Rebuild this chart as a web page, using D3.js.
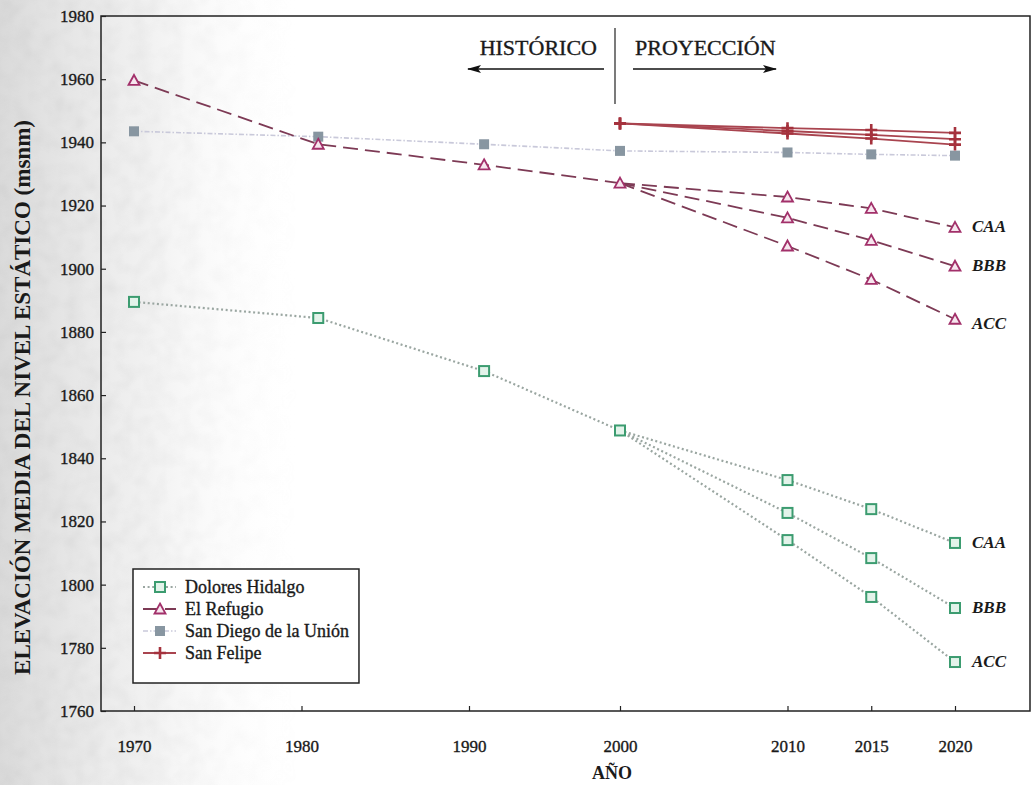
<!DOCTYPE html>
<html>
<head>
<meta charset="utf-8">
<script src="https://cdn.jsdelivr.net/npm/d3@7"></script>
<style>
  body { margin: 0; background: #fff; }
</style>
</head>
<body>
<svg id="chart" width="1034" height="785"></svg>
<script>
// ---- data -------------------------------------------------------------
const histYears = [1970, 1981, 1991, 2000];
const projYears = [2000, 2010, 2015, 2020];
const allYears  = [1970, 1981, 1991, 2000, 2010, 2015, 2020];
const xTickValues = [1970, 1980, 1990, 2000, 2010, 2015, 2020];
const yTickValues = [1760, 1780, 1800, 1820, 1840, 1860, 1880, 1900, 1920, 1940, 1960, 1980];
const scenarios = ["CAA", "BBB", "ACC"];

// Dolores Hidalgo (msnm)
const doloresHist = [1889.5, 1884.4, 1867.6, 1848.8];
const doloresCAA  = [1848.8, 1833.1, 1823.9, 1813.2];
const doloresBBB  = [1848.8, 1822.7, 1808.4, 1792.6];
const doloresACC  = [1848.8, 1814.1, 1796.1, 1775.5];

// El Refugio (msnm)
const refugioHist = [1959.6, 1939.4, 1932.9, 1927.1];
const refugioCAA  = [1927.1, 1922.7, 1919.1, 1913.1];
const refugioBBB  = [1927.1, 1916.1, 1909.0, 1900.8];
const refugioACC  = [1927.1, 1907.2, 1896.6, 1884.0];

// San Diego de la Unión (msnm)
const sanDiego = [1943.5, 1941.8, 1939.4, 1937.3, 1936.8, 1936.2, 1935.8];

// San Felipe (msnm), three projected branches from 2000
const sanFelipeCAA = [1946.0, 1944.5, 1943.9, 1943.0];
const sanFelipeBBB = [1946.0, 1943.6, 1942.4, 1941.0];
const sanFelipeACC = [1946.0, 1942.8, 1941.2, 1939.3];

const seriesNames = ["Dolores Hidalgo", "El Refugio", "San Diego de la Unión", "San Felipe"];

// ---- layout -----------------------------------------------------------
const svg = d3.select("#chart");
const W = 1034, H = 785;
const pLeft = 101, pRight = 1030, pTop = 16, pBottom = 711;
const serif = "Liberation Serif";
const ink = "#1a1a1a";

// piecewise scale: the printed axis is not uniform between 1990 and 2000
const x = d3.scaleLinear().domain([1970, 1990, 2000, 2020]).range([134, 469, 620, 955]);
const y = d3.scaleLinear().domain([1760, 1980]).range([pBottom, pTop]);

// soft grey scan haze on the left side
const defs = svg.append("defs");
const grad = defs.append("linearGradient").attr("id", "haze").attr("x1", 0).attr("x2", 1).attr("y1", 0).attr("y2", 0);
grad.append("stop").attr("offset", 0).attr("stop-color", "#d6d6d6").attr("stop-opacity", 0.9);
grad.append("stop").attr("offset", 0.5).attr("stop-color", "#e6e6e6").attr("stop-opacity", 0.55);
grad.append("stop").attr("offset", 1).attr("stop-color", "#ffffff").attr("stop-opacity", 0);
const noise = defs.append("filter").attr("id", "grain").attr("x", 0).attr("y", 0).attr("width", 1).attr("height", 1);
noise.append("feTurbulence").attr("type", "fractalNoise").attr("baseFrequency", 0.06).attr("numOctaves", 2).attr("seed", 4);
noise.append("feColorMatrix").attr("type", "matrix")
  .attr("values", "0 0 0 0 0.55  0 0 0 0 0.55  0 0 0 0 0.55  0 0 0 -1.2 0.75");
noise.append("feComposite").attr("in2", "SourceGraphic").attr("operator", "in");

svg.append("rect").attr("x", 0).attr("y", 0).attr("width", 300).attr("height", H).attr("fill", "url(#haze)");
svg.append("rect").attr("x", 0).attr("y", 0).attr("width", 300).attr("height", H)
  .attr("fill", "url(#haze)").attr("filter", "url(#grain)").attr("opacity", 0.5);

// arrow head
defs.append("marker").attr("id", "arrow").attr("viewBox", "0 0 14 8").attr("refX", 13).attr("refY", 4)
  .attr("markerWidth", 14).attr("markerHeight", 8).attr("markerUnits", "userSpaceOnUse").attr("orient", "auto")
  .append("path").attr("d", "M0,0 L14,4 L0,8 L3,4 Z").attr("fill", "#111");

// text helper: every label uses the serif face, slightly heavier than regular
function label(sel, x0, y0, str, size, opts = {}) {
  const t = sel.append("text").attr("x", x0).attr("y", y0)
    .attr("font-family", serif).attr("font-size", size)
    .attr("font-weight", opts.weight || "normal").attr("font-style", opts.style || "normal")
    .attr("text-anchor", opts.anchor || "start").attr("fill", ink).text(str);
  if (!opts.weight) t.attr("stroke", ink).attr("stroke-width", 0.35);
  return t;
}

// ---- axes ---------------------------------------------------------------
const yAxis = d3.axisLeft(y).tickValues(yTickValues).tickSizeInner(-5).tickSizeOuter(0).tickPadding(7).tickFormat(d3.format("d"));
const gy = svg.append("g").attr("transform", `translate(${pLeft},0)`).call(yAxis);
gy.select(".domain").remove();
gy.selectAll("line").attr("stroke", "#222").attr("stroke-width", 1.2);
gy.selectAll("text").attr("font-family", serif).attr("font-size", 17).attr("fill", ink)
  .attr("stroke", ink).attr("stroke-width", 0.35);

const xAxis = d3.axisBottom(x).tickValues(xTickValues).tickSizeInner(-5).tickSizeOuter(0).tickPadding(29).tickFormat(d3.format("d"));
const gx = svg.append("g").attr("transform", `translate(0,${pBottom})`).call(xAxis);
gx.select(".domain").remove();
gx.selectAll("line").attr("stroke", "#222").attr("stroke-width", 1.2);
gx.selectAll("text").attr("font-family", serif).attr("font-size", 17).attr("fill", ink)
  .attr("stroke", ink).attr("stroke-width", 0.35);

// frame
svg.append("path")
  .attr("d", `M${pLeft},${pTop} L${pRight},${pTop} L${pRight},${pBottom} L${pLeft},${pBottom} Z`)
  .attr("fill", "none").attr("stroke", "#222").attr("stroke-width", 1.5);

// axis titles
label(svg, x(2000) - 8, 779, "AÑO", 18, { weight: "bold", anchor: "middle" });
label(svg, 0, 0, "ELEVACIÓN MEDIA DEL NIVEL ESTÁTICO (msnm)", 23, { weight: "bold", anchor: "middle" })
  .attr("transform", `translate(30,${(pTop + pBottom) / 2 + 34}) rotate(-90)`);

// ---- historic / projection annotation ------------------------------------
svg.append("line").attr("x1", 615).attr("x2", 615).attr("y1", 28).attr("y2", 104).attr("stroke", "#222").attr("stroke-width", 1.2);
label(svg, 597, 55, "HISTÓRICO", 22, { anchor: "end" });
label(svg, 635, 55, "PROYECCIÓN", 22);
svg.append("line").attr("x1", 604).attr("x2", 468).attr("y1", 69).attr("y2", 69).attr("stroke", "#111").attr("stroke-width", 1.5).attr("marker-end", "url(#arrow)");
svg.append("line").attr("x1", 633).attr("x2", 776).attr("y1", 69).attr("y2", 69).attr("stroke", "#111").attr("stroke-width", 1.5).attr("marker-end", "url(#arrow)");

// ---- series styles --------------------------------------------------------
const styles = {
  dolores:  { line: "#9aa6a1", width: 2.2, dash: "2 2.6" },
  refugio:  { line: "#7d3a55", width: 1.8, dash: "15 7" },
  sanDiego: { line: "#c9c9da", width: 1.6, dash: "5 2 1.5 2" },
  sanFelipe:{ line: "#a9444f", width: 1.8, dash: null }
};

const line = d3.line().x(d => x(d[0])).y(d => y(d[1]));
const zipped = (years, vals) => years.map((yr, i) => [yr, vals[i]]);

function drawLine(pts, st) {
  const p = svg.append("path").attr("d", line(pts)).attr("fill", "none")
    .attr("stroke", st.line).attr("stroke-width", st.width);
  if (st.dash) p.attr("stroke-dasharray", st.dash);
}

function squareOpen(g, cx, cy) {
  g.append("rect").attr("x", cx - 5).attr("y", cy - 5).attr("width", 10).attr("height", 10)
    .attr("fill", "#e3f3ea").attr("stroke", "#3c9c70").attr("stroke-width", 2);
}
function triangle(g, cx, cy) {
  g.append("path").attr("d", `M${cx},${cy - 5.5} L${cx + 5.5},${cy + 4.5} L${cx - 5.5},${cy + 4.5} Z`)
    .attr("fill", "#f6e6ee").attr("stroke", "#a2306a").attr("stroke-width", 1.8);
}
function squareFilled(g, cx, cy) {
  g.append("rect").attr("x", cx - 5).attr("y", cy - 5).attr("width", 10).attr("height", 10)
    .attr("fill", "#8896a1");
}
function plus(g, cx, cy) {
  g.append("path").attr("d", `M${cx - 6},${cy} L${cx + 6},${cy} M${cx},${cy - 6} L${cx},${cy + 6}`)
    .attr("stroke", "#a5323d").attr("stroke-width", 2.6);
}

// San Diego de la Unión
const sdPts = zipped(allYears, sanDiego);
drawLine(sdPts, styles.sanDiego);

// El Refugio
const refProj = [refugioCAA, refugioBBB, refugioACC];
drawLine(zipped(histYears, refugioHist), styles.refugio);
refProj.forEach(v => drawLine(zipped(projYears, v), styles.refugio));

// Dolores Hidalgo
const dolProj = [doloresCAA, doloresBBB, doloresACC];
drawLine(zipped(histYears, doloresHist), styles.dolores);
dolProj.forEach(v => drawLine(zipped(projYears, v), styles.dolores));

// San Felipe
const sfProj = [sanFelipeCAA, sanFelipeBBB, sanFelipeACC];
sfProj.forEach(v => drawLine(zipped(projYears, v), styles.sanFelipe));

// markers
const gm = svg.append("g");
sdPts.forEach(d => squareFilled(gm, x(d[0]), y(d[1])));
zipped(histYears, refugioHist).forEach(d => triangle(gm, x(d[0]), y(d[1])));
refProj.forEach(v => zipped(projYears, v).slice(1).forEach(d => triangle(gm, x(d[0]), y(d[1]))));
zipped(histYears, doloresHist).forEach(d => squareOpen(gm, x(d[0]), y(d[1])));
dolProj.forEach(v => zipped(projYears, v).slice(1).forEach(d => squareOpen(gm, x(d[0]), y(d[1]))));
sfProj.forEach(v => zipped(projYears, v).forEach(d => plus(gm, x(d[0]), y(d[1]))));

// scenario labels at the last projected year
const labelShift = { ACC: 5 };
[refProj, dolProj].forEach(group => {
  group.forEach((v, i) => {
    const name = scenarios[i];
    const dy = 5 + (group === refProj ? (labelShift[name] || 0) : 0);
    label(svg, x(2020) + 17, y(v[v.length - 1]) + dy, name, 17, { weight: "bold", style: "italic" });
  });
});

// ---- legend -----------------------------------------------------------------
const lg = svg.append("g");
const lgX = 133, lgY = 569, rowH = 22;
const markerFns = [squareOpen, triangle, squareFilled, plus];
const lineStyles = [styles.dolores, styles.refugio, styles.sanDiego, styles.sanFelipe];
const labels = seriesNames.map((name, i) => {
  const cy = lgY + 18 + i * rowH;
  const p = lg.append("line").attr("x1", lgX + 10).attr("x2", lgX + 43).attr("y1", cy).attr("y2", cy)
    .attr("stroke", lineStyles[i].line).attr("stroke-width", lineStyles[i].width);
  if (lineStyles[i].dash) p.attr("stroke-dasharray", lineStyles[i].dash);
  markerFns[i](lg, lgX + 27, cy);
  return label(lg, lgX + 52, cy + 6, name, 18);
});
const maxW = d3.max(labels, t => t.node().getComputedTextLength());
lg.insert("rect", ":first-child").attr("x", lgX).attr("y", lgY).attr("width", 52 + maxW + 10).attr("height", 114)
  .attr("fill", "#fff").attr("stroke", "#222").attr("stroke-width", 1.5);
</script>
</body>
</html>
